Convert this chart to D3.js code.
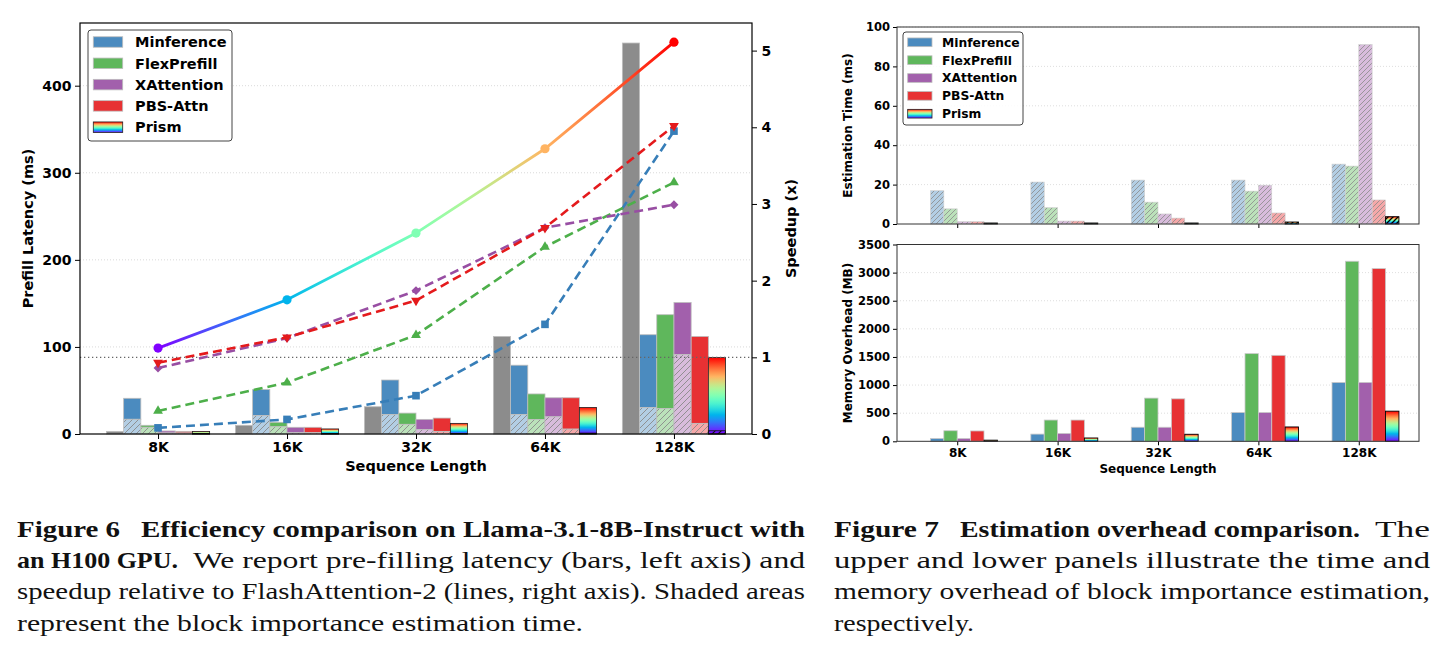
<!DOCTYPE html>
<html><head><meta charset="utf-8">
<script src="https://cdn.jsdelivr.net/npm/d3@7"></script>
<style>
html,body{margin:0;padding:0;background:#fff;}
svg{display:block;}
</style></head>
<body>
<svg id="fig" width="1445" height="655"></svg>
<script>
// ---------------- data ----------------
const categories = ["8K","16K","32K","64K","128K"];
const methods = ["Minference","FlexPrefill","XAttention","PBS-Attn","Prism"];

const flashLatency   = [3, 10, 31.3, 112, 449];
const latMinference  = [41, 51, 62, 79, 114];
const latFlexPrefill = [10, 13.4, 24, 46, 137];
const latXAttention  = [3.5, 7.7, 16.8, 41.6, 151];
const latPBSAttn     = [3, 7.7, 18.3, 41.6, 112];
const latPrism       = [2.8, 5.8, 12.2, 30.5, 88];

const estMinference  = [16.9, 21.3, 22.3, 22.3, 30.4];
const estFlexPrefill = [7.7, 8.3, 11.1, 16.7, 29.4];
const estXAttention  = [1.2, 1.5, 5.1, 19.7, 91.1];
const estPBSAttn     = [1.2, 1.5, 3.0, 5.6, 12.2];
const estPrism       = [0.5, 0.5, 0.5, 1.0, 3.7];

const speedMinference  = [0.08, 0.19, 0.50, 1.43, 3.95];
const speedFlexPrefill = [0.30, 0.67, 1.29, 2.44, 3.28];
const speedXAttention  = [0.86, 1.25, 1.87, 2.69, 2.99];
const speedPBSAttn     = [0.93, 1.26, 1.74, 2.69, 4.02];
const speedPrism       = [1.12, 1.75, 2.62, 3.72, 5.11];

const memMinference  = [50, 128, 250, 511, 1046];
const memFlexPrefill = [188, 378, 768, 1559, 3202];
const memXAttention  = [50, 140, 250, 511, 1046];
const memPBSAttn     = [184, 378, 755, 1529, 3071];
const memPrism       = [20, 59, 125, 255, 536];

const latencyTicks = [0,100,200,300,400];
const speedupTicks = [0,1,2,3,4,5];
const estTicks = [0,20,40,60,80,100];
const memTicks = [0,500,1000,1500,2000,2500,3000,3500];

// ---------------- helpers ----------------
const FONT = "DejaVu Sans";
const baseColors = ["#377eb8","#4daf4a","#984ea3","#e41a1c"];
function mix(c,a){const k=d3.rgb(c);return d3.rgb(255-(255-k.r)*a,255-(255-k.g)*a,255-(255-k.b)*a).formatHex();}
const solid = baseColors.map(c=>mix(c,0.9));
const light = baseColors.map(c=>mix(c,0.38));
const grayBar = "#8c8c8c";
const edge = "#bdbdbd";
const fmtInt = d3.format("d");
function rainbow(t){
  const r=Math.min(1,Math.abs(2*t-0.5)), g=Math.sin(Math.PI*t), b=Math.max(0,Math.cos(Math.PI*t/2));
  return d3.rgb(r*255,g*255,b*255).formatHex();
}

const svg = d3.select("#fig");
const defs = svg.append("defs");
function hatch(id,bg,line,sw,s){
  const p=defs.append("pattern").attr("id",id).attr("patternUnits","userSpaceOnUse").attr("width",s).attr("height",s);
  if(bg) p.append("rect").attr("width",s).attr("height",s).attr("fill",bg);
  p.append("path").attr("d",`M${-s/2},${s/2}L${s/2},${-s/2}M0,${s}L${s},0M${s/2},${s*1.5}L${s*1.5},${s/2}`)
    .attr("stroke",line).attr("stroke-width",sw).attr("fill","none");
}
light.forEach((c,i)=>hatch("h"+i,c,"#8a8a8a",0.9,6));
hatch("hp",null,"#111",1.1,6);
light.forEach((c,i)=>hatch("hs"+i,c,"#8a8a8a",0.8,5));
hatch("hps",null,"#000",1.3,5);
const grad=defs.append("linearGradient").attr("id","rb").attr("x1",0).attr("y1",1).attr("x2",0).attr("y2",0);
d3.range(0,1.0001,0.05).forEach(t=>grad.append("stop").attr("offset",t).attr("stop-color",rainbow(t)));

function styleAxis(g,size){
  g.select(".domain").remove();
  g.selectAll(".tick line").attr("stroke","#000").attr("stroke-width",1);
  g.selectAll(".tick text").attr("font-family",FONT).attr("font-weight","bold").attr("font-size",size).attr("fill","#000");
}

// ================= Figure 6 (left) =================
const L={l:80,r:752,t:23,b:434};
const xL=d3.scalePoint().domain(categories).range([L.l,L.r]).padding(0.605);
const bwL=xL.step()*0.8/6;
const yL=d3.scaleLinear().domain([0,472]).range([L.b,L.t]);
const yR=d3.scaleLinear().domain([0,5.36]).range([L.b,L.t]);
const gL=svg.append("g");

// grid
gL.append("g").selectAll("line").data(latencyTicks.filter(v=>v>0)).join("line")
  .attr("x1",L.l).attr("x2",L.r).attr("y1",d=>yL(d)).attr("y2",d=>yL(d))
  .attr("stroke","#cfcfcf").attr("stroke-width",0.8).attr("stroke-dasharray","1,2");

// bars
const latSeries=[latMinference,latFlexPrefill,latXAttention,latPBSAttn];
const estSeries=[estMinference,estFlexPrefill,estXAttention,estPBSAttn];
const gB=gL.append("g");
categories.forEach((c,k)=>{
  const x0=xL(c);
  gB.append("rect").attr("x",x0-3*bwL).attr("width",bwL).attr("y",yL(flashLatency[k])).attr("height",yL(0)-yL(flashLatency[k]))
    .attr("fill",grayBar).attr("stroke",edge).attr("stroke-width",0.8);
  latSeries.forEach((arr,j)=>{
    const x=x0+(j-2)*bwL;
    gB.append("rect").attr("x",x).attr("width",bwL).attr("y",yL(arr[k])).attr("height",yL(estSeries[j][k])-yL(arr[k]))
      .attr("fill",solid[j]).attr("stroke",edge).attr("stroke-width",0.8);
    gB.append("rect").attr("x",x).attr("width",bwL).attr("y",yL(estSeries[j][k])).attr("height",yL(0)-yL(estSeries[j][k]))
      .attr("fill",`url(#h${j})`).attr("stroke",edge).attr("stroke-width",0.8);
  });
  const xp=x0+2*bwL;
  gB.append("rect").attr("x",xp).attr("width",bwL).attr("y",yL(latPrism[k])).attr("height",yL(0)-yL(latPrism[k]))
    .attr("fill","url(#rb)").attr("stroke","#222").attr("stroke-width",0.8);
  gB.append("rect").attr("x",xp).attr("width",bwL).attr("y",yL(estPrism[k])).attr("height",yL(0)-yL(estPrism[k]))
    .attr("fill","url(#hp)").attr("stroke","#111").attr("stroke-width",0.8);
});

// reference line speedup = 1
gL.append("line").attr("x1",L.l).attr("x2",L.r).attr("y1",yR(1)).attr("y2",yR(1))
  .attr("stroke","#666").attr("stroke-width",1.3).attr("stroke-dasharray","1.3,2.7");

// speedup lines
const lineGen=d3.line().x((d,i)=>xL(categories[i])).y(d=>yR(d));
const spSeries=[
  {v:speedMinference,c:baseColors[0],m:"square"},
  {v:speedFlexPrefill,c:baseColors[1],m:"up"},
  {v:speedXAttention,c:baseColors[2],m:"diamond"},
  {v:speedPBSAttn,c:baseColors[3],m:"down"}];
spSeries.forEach(s=>{
  gL.append("path").attr("d",lineGen(s.v)).attr("fill","none").attr("stroke",s.c).attr("stroke-width",2.6).attr("stroke-dasharray","9,5");
  s.v.forEach((v,i)=>{
    const x=xL(categories[i]), y=yR(v);
    let sym, rot=0;
    if(s.m==="square") sym=d3.symbol(d3.symbolSquare,58);
    else if(s.m==="up") sym=d3.symbol(d3.symbolTriangle,42);
    else if(s.m==="down"){sym=d3.symbol(d3.symbolTriangle,42);rot=180;}
    else {sym=d3.symbol(d3.symbolSquare,40);rot=45;}
    gL.append("path").attr("d",sym()).attr("transform",`translate(${x},${y}) rotate(${rot})`).attr("fill",s.c);
  });
});
// prism gradient line
const lg=defs.append("linearGradient").attr("id","lineRb").attr("gradientUnits","userSpaceOnUse")
  .attr("x1",xL(categories[0])).attr("x2",xL(categories[4])).attr("y1",0).attr("y2",0);
d3.range(0,1.0001,0.05).forEach(t=>lg.append("stop").attr("offset",t).attr("stop-color",rainbow(t)));
gL.append("path").attr("d",lineGen(speedPrism)).attr("fill","none").attr("stroke","url(#lineRb)").attr("stroke-width",2.8);
gL.selectAll(".pdot").data(speedPrism).join("circle").attr("cx",(d,i)=>xL(categories[i])).attr("cy",d=>yR(d))
  .attr("r",4.6).attr("fill",(d,i)=>rainbow(i/4));

// axes
const axL=gL.append("g").attr("transform",`translate(${L.l},0)`).call(d3.axisLeft(yL).tickValues(latencyTicks).tickFormat(fmtInt).tickSize(5).tickPadding(3.5));
styleAxis(axL,14);
const axR=gL.append("g").attr("transform",`translate(${L.r},0)`).call(d3.axisRight(yR).tickValues(speedupTicks).tickFormat(fmtInt).tickSize(5).tickPadding(4.5));
styleAxis(axR,14);
const axB=gL.append("g").attr("transform",`translate(0,${L.b})`).call(d3.axisBottom(xL).tickSize(5).tickPadding(3));
styleAxis(axB,14);
gL.append("rect").attr("x",L.l).attr("y",L.t).attr("width",L.r-L.l).attr("height",L.b-L.t).attr("fill","none").attr("stroke","#000").attr("stroke-width",1.2);

function label(g,x,y,txt,size,rot){
  g.append("text").attr("transform",`translate(${x},${y}) rotate(${rot||0})`).attr("text-anchor","middle")
   .attr("font-family",FONT).attr("font-weight","bold").attr("font-size",size).text(txt);
}
label(gL,416,471,"Sequence Length",14.5);
label(gL,33,228.5,"Prefill Latency (ms)",14.5,-90);
label(gL,796,228.5,"Speedup (x)",14.5,-90);

// legend
function legend(g,x,y,w,h,px,pw,ph,tx,y0,dy,fs){
  g.append("rect").attr("x",x).attr("y",y).attr("width",w).attr("height",h).attr("rx",3)
    .attr("fill","#fff").attr("fill-opacity",0.85).attr("stroke","#444").attr("stroke-width",1);
  methods.forEach((m,i)=>{
    const cy=y0+i*dy;
    g.append("rect").attr("x",px).attr("y",cy-ph/2).attr("width",pw).attr("height",ph)
      .attr("fill",i<4?solid[i]:"url(#rb)").attr("stroke",i<4?edge:"#222").attr("stroke-width",0.8);
    g.append("text").attr("x",tx).attr("y",cy+fs*0.36).attr("font-family",FONT).attr("font-weight","bold").attr("font-size",fs).text(m);
  });
}
legend(gL,88,30,144,111,93.3,29.4,10.5,135,42,21.3,14.5);

// ================= Figure 7 (right) =================
const R={l:897,r:1419};
const xr=d3.scalePoint().domain(categories).range([R.l,R.r]).padding(0.6);
const bwR=xr.step()*0.8/6;
const gR=svg.append("g");
const yT=d3.scaleLinear().domain([0,100]).range([224,27]);
const yM=d3.scaleLinear().domain([0,3500]).range([441.3,244.5]);

function grid(g,scale,ticks){
  g.append("g").selectAll("line").data(ticks.filter(v=>v>0)).join("line")
   .attr("x1",R.l).attr("x2",R.r).attr("y1",d=>scale(d)).attr("y2",d=>scale(d))
   .attr("stroke","#d6d6d6").attr("stroke-width",0.8).attr("stroke-dasharray","1,2");
}
grid(gR,yT,estTicks);
grid(gR,yM,memTicks);

const estAll=[estMinference,estFlexPrefill,estXAttention,estPBSAttn,estPrism];
const memAll=[memMinference,memFlexPrefill,memXAttention,memPBSAttn,memPrism];
categories.forEach((c,k)=>{
  const x0=xr(c);
  estAll.forEach((arr,j)=>{
    const x=x0+(j-2)*bwR;
    if(j<4){
      gR.append("rect").attr("x",x).attr("width",bwR).attr("y",yT(arr[k])).attr("height",yT(0)-yT(arr[k]))
        .attr("fill",`url(#hs${j})`).attr("stroke","#d0d0d0").attr("stroke-width",0.6);
    } else {
      gR.append("rect").attr("x",x).attr("width",bwR).attr("y",yT(arr[k])).attr("height",yT(0)-yT(arr[k]))
        .attr("fill","url(#rb)").attr("stroke","#000").attr("stroke-width",0.9);
      gR.append("rect").attr("x",x).attr("width",bwR).attr("y",yT(arr[k])).attr("height",yT(0)-yT(arr[k]))
        .attr("fill","url(#hps)");
    }
  });
  memAll.forEach((arr,j)=>{
    const x=x0+(j-2)*bwR;
    gR.append("rect").attr("x",x).attr("width",bwR).attr("y",yM(arr[k])).attr("height",yM(0)-yM(arr[k]))
      .attr("fill",j<4?solid[j]:"url(#rb)").attr("stroke",j<4?"#c8c8c8":"#000").attr("stroke-width",j<4?0.8:0.9);
  });
});

const axT=gR.append("g").attr("transform",`translate(${R.l},0)`).call(d3.axisLeft(yT).tickValues(estTicks).tickFormat(fmtInt).tickSize(4).tickPadding(3));
styleAxis(axT,11.5);
const axTB=gR.append("g").attr("transform",`translate(0,224)`).call(d3.axisBottom(xr).tickSize(4).tickFormat(""));
styleAxis(axTB,11.5);
const axM=gR.append("g").attr("transform",`translate(${R.l},0)`).call(d3.axisLeft(yM).tickValues(memTicks).tickFormat(fmtInt).tickSize(4).tickPadding(3));
styleAxis(axM,11.5);
const axMB=gR.append("g").attr("transform",`translate(0,441.3)`).call(d3.axisBottom(xr).tickSize(4).tickPadding(3.5));
styleAxis(axMB,12);
gR.append("rect").attr("x",R.l).attr("y",27).attr("width",R.r-R.l).attr("height",224-27).attr("fill","none").attr("stroke","#333").attr("stroke-width",1);
gR.append("rect").attr("x",R.l).attr("y",244.5).attr("width",R.r-R.l).attr("height",441.3-244.5).attr("fill","none").attr("stroke","#333").attr("stroke-width",1);

label(gR,1158,473,"Sequence Length",12);
label(gR,852,125.5,"Estimation Time (ms)",12,-90);
label(gR,852,343,"Memory Overhead (MB)",12,-90);
legend(gR,903,32,120,93,907.7,24.3,8.7,942,42.3,17.85,12.3);

// ================= captions =================
function cap(x,y,w,str,bold){
  svg.append("text").attr("x",x).attr("y",y).attr("textLength",w).attr("lengthAdjust","spacingAndGlyphs")
    .attr("font-family","Liberation Serif").attr("font-size",24).attr("font-weight",bold?700:400).attr("fill","#111").text(str);
}
cap(17,537,103,"Figure 6",true);
cap(141,537,664,"Efficiency comparison on Llama-3.1-8B-Instruct with",true);
cap(17,568,161,"an H100 GPU.",true);
cap(193,568,612,"We report pre-filling latency (bars, left axis) and",false);
cap(17,599,788,"speedup relative to FlashAttention-2 (lines, right axis). Shaded areas",false);
cap(17,631,566,"represent the block importance estimation time.",false);

cap(834,537,105,"Figure 7",true);
cap(960,537,400,"Estimation overhead comparison.",true);
cap(1375,537,55,"The",false);
cap(834,568,596,"upper and lower panels illustrate the time and",false);
cap(834,599,596,"memory overhead of block importance estimation,",false);
cap(834,631,140,"respectively.",false);
</script>
</body></html>
